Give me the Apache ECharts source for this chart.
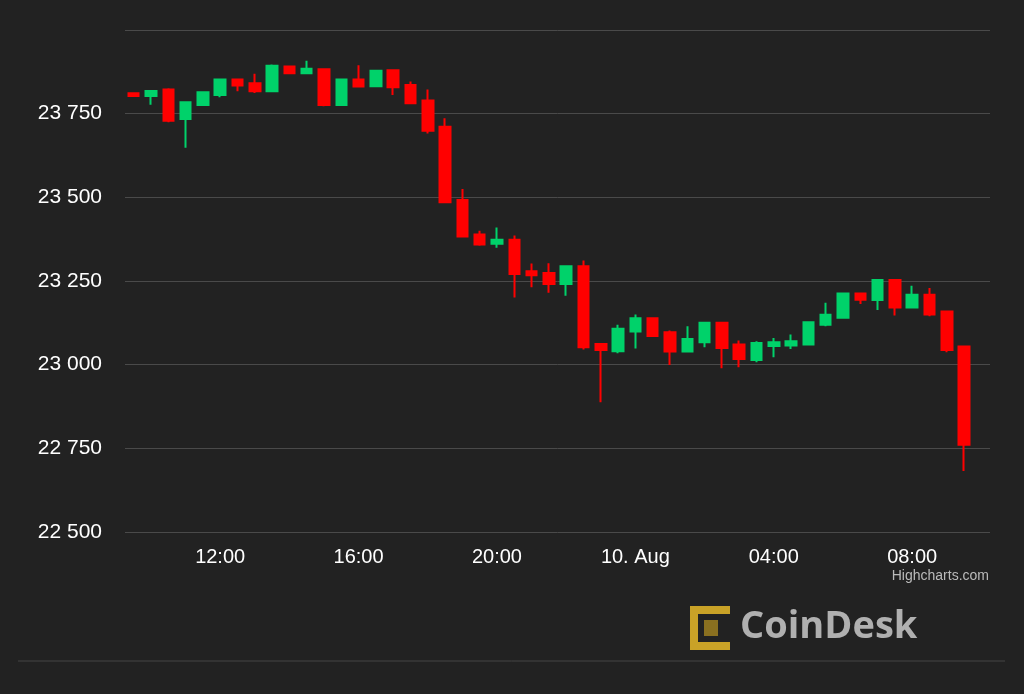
<!DOCTYPE html>
<html><head><meta charset="utf-8">
<script src="https://cdn.jsdelivr.net/npm/echarts@6/dist/echarts.min.js"></script>
<style>html,body{margin:0;padding:0;background:#222222;}#c{width:1024px;height:694px;}</style>
</head><body><div id="c"></div>
<script>
const times = ["09:30","10:00","10:30","11:00","11:30","12:00","12:30","13:00","13:30","14:00","14:30","15:00","15:30","16:00","16:30","17:00","17:30","18:00","18:30","19:00","19:30","20:00","20:30","21:00","21:30","22:00","22:30","23:00","23:30","00:00","00:30","01:00","01:30","02:00","02:30","03:00","03:30","04:00","04:30","05:00","05:30","06:00","06:30","07:00","07:30","08:00","08:30","09:00","09:30","10:00"];
const opens  = [23811,23803,23822,23734,23776,23806,23852,23841,23817,23891,23871,23883,23776,23852,23832,23880,23836,23789,23711,23492,23389,23361,23373,23279,23274,23241,23294,23062,23040,23099,23139,23097,23039,23067,23125,23060,23014,23056,23057,23060,23119,23140,23213,23193,23253,23171,23209,23159,23054];
const closes = [23803,23818,23729,23784,23814,23852,23834,23817,23893,23871,23884,23776,23852,23831,23878,23829,23781,23699,23485,23383,23359,23373,23271,23267,23241,23294,23052,23044,23107,23139,23086,23039,23077,23125,23050,23017,23065,23067,23070,23127,23149,23213,23194,23253,23171,23209,23150,23044,22761];
const lows   = [23800,23777,23724,23648,23774,23799,23817,23812,23814,23869,23870,23772,23775,23829,23830,23806,23780,23691,23483,23380,23355,23349,23201,23231,23215,23206,23045,22888,23034,23048,23084,22999,23038,23052,22989,22992,23007,23022,23047,23058,23115,23138,23181,23163,23147,23170,23145,23037,22682];
const highs  = [23813,23820,23826,23784,23816,23852,23854,23869,23897,23893,23908,23885,23853,23895,23880,23882,23846,23822,23736,23525,23400,23410,23386,23302,23303,23294,23311,23062,23119,23150,23141,23102,23115,23125,23127,23072,23070,23080,23090,23130,23185,23215,23216,23256,23256,23236,23229,23160,23056];
const tickLabels = {5:"12:00",13:"16:00",21:"20:00",29:"10. Aug",37:"04:00",45:"08:00"};
const ohlc = opens.map((o,i)=>[o,closes[i],lows[i],highs[i]]);
const chart = echarts.init(document.getElementById('c'));
chart.setOption({
  backgroundColor:'#222222',
  animation:false,
  grid:{left:125,right:34,top:30,bottom:162},
  xAxis:{type:'category',data:times,boundaryGap:true,
    axisLine:{show:false},axisTick:{show:false},splitLine:{show:false},
    axisLabel:{interval:0,color:'#ffffff',fontSize:20,fontFamily:'"Liberation Sans", Arial, sans-serif',margin:15,
      formatter:(v,i)=>tickLabels[i]||''}},
  yAxis:{type:'value',min:22500,max:24000,interval:250,
    axisLine:{show:false},axisTick:{show:false},
    splitLine:{lineStyle:{color:'#4a4a4a',width:1}},
    axisLabel:{color:'#ffffff',fontSize:21,fontFamily:'"Liberation Sans", Arial, sans-serif',margin:23,
      formatter:v=>v>=24000?'':String(v).replace(/(\d{2})(\d{3})$/,'$1 $2')}},
  series:[{type:'candlestick',data:ohlc,barWidth:11,
    itemStyle:{color:'#00d26a',color0:'#ff0000',borderColor:'#00d26a',borderColor0:'#ff0000',borderWidth:2}}],
  graphic:[
    {type:'text',right:35,top:569,style:{text:'Highcharts.com',fill:'#bbbbbb',font:'14px "Liberation Sans", Arial, sans-serif'}},
    {type:'line',shape:{x1:18,y1:661,x2:1005,y2:661},style:{stroke:'#444444',lineWidth:1}},
    {type:'group',left:690,top:606,children:[
      {type:'rect',shape:{x:0,y:0,width:8,height:44},style:{fill:'#c9a227'}},
      {type:'rect',shape:{x:0,y:0,width:40,height:8},style:{fill:'#c9a227'}},
      {type:'rect',shape:{x:0,y:36,width:40,height:8},style:{fill:'#c9a227'}},
      {type:'rect',shape:{x:14,y:14,width:14,height:16},style:{fill:'#8a7020'}}
    ]},
    {type:'text',left:740,top:608,style:{text:'CoinDesk',fill:'#b0b0b0',font:'bold 38px "Open Sans", sans-serif'}}
  ]
});
</script></body></html>
